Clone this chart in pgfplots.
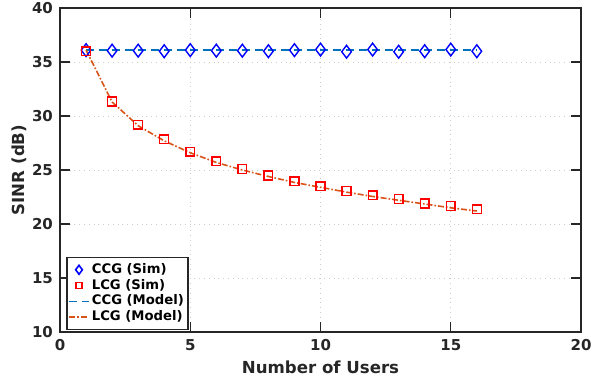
\documentclass[border=0pt]{standalone}
\usepackage{pgfplots}
\pgfplotsset{compat=1.18}
\usepackage{fontspec}
\setmainfont{DejaVu Sans}
\definecolor{mblue}{rgb}{0,0.447,0.741}
\definecolor{morange}{rgb}{0.85,0.325,0.098}
\definecolor{axgray}{rgb}{0.15,0.15,0.15}
\begin{document}
\begin{tikzpicture}
\useasboundingbox (-30pt,-27pt) rectangle (275pt,166pt);
\begin{axis}[
  at={(0,0)}, anchor=south west,
  scale only axis, width=260.5pt, height=162pt,
  xmin=0, xmax=20, ymin=10, ymax=40,
  xtick={0,5,10,15,20}, ytick={10,15,20,25,30,35,40},
  tick align=inside, major tick length=5pt,
  axis line style={axgray, line width=0.8pt},
  every tick/.style={axgray, line width=0.6pt},
  grid=major, grid style={gray!40, dotted, line width=0.4pt},
  ticklabel style={font=\fontsize{7.5}{8}\selectfont\bfseries, text=axgray},
  /pgf/number format/assume math mode=true,
  xlabel={\textbf{Number of Users}}, ylabel={\textbf{SINR (dB)}},
  label style={font=\fontsize{8.3}{9}\selectfont, text=axgray},
  xlabel style={yshift=1.5pt}, ylabel style={yshift=-4pt},
  legend style={at={(0.012,0.006)}, anchor=south west, draw=axgray, line width=0.7pt,
    font=\fontsize{6.6}{7.5}\selectfont\bfseries, inner sep=0.8pt, row sep=-2.6pt,
    legend cell align=left, nodes={inner xsep=1.2pt}},
  legend image code/.code={\draw[mark repeat=2,mark phase=2,mark options={scale=0.7},#1]
     plot coordinates {(0cm,0cm)(0.17cm,0cm)(0.34cm,0cm)};},
  legend image post style={line width=0.8pt},
]
\addplot[only marks, mark=diamond, mark size=3.2pt, draw=blue, line width=0.7pt] coordinates {
(1,36.1)(2,36.05)(3,36.05)(4,36.0)(5,36.1)(6,36.05)(7,36.05)(8,36.0)(9,36.1)(10,36.15)(11,35.95)(12,36.15)(13,35.95)(14,36.0)(15,36.15)(16,36.0)};
\addlegendentry{CCG (Sim)}
\addplot[only marks, mark=square, mark size=2.2pt, draw=red, line width=0.7pt] coordinates {
(1,36.0)(2,31.35)(3,29.2)(4,27.84)(5,26.7)(6,25.8)(7,25.1)(8,24.5)(9,23.95)(10,23.5)(11,23.06)(12,22.66)(13,22.3)(14,21.9)(15,21.67)(16,21.36)};
\addlegendentry{LCG (Sim)}
\addplot[mblue, line width=0.8pt, dash pattern=on 4pt off 2.5pt] coordinates {
(1,36.1)(16,36.1)};
\addlegendentry{CCG (Model)}
\addplot[morange, line width=0.8pt, dash pattern=on 3pt off 1pt on 0.8pt off 1pt] coordinates {
(1,36.1)(2,31.3)(3,29.1)(4,27.7)(5,26.6)(6,25.7)(7,25.0)(8,24.4)(9,23.85)(10,23.4)(11,22.95)(12,22.55)(13,22.2)(14,21.85)(15,21.5)(16,21.2)};
\addlegendentry{LCG (Model)}
\end{axis}
\end{tikzpicture}
\end{document}
